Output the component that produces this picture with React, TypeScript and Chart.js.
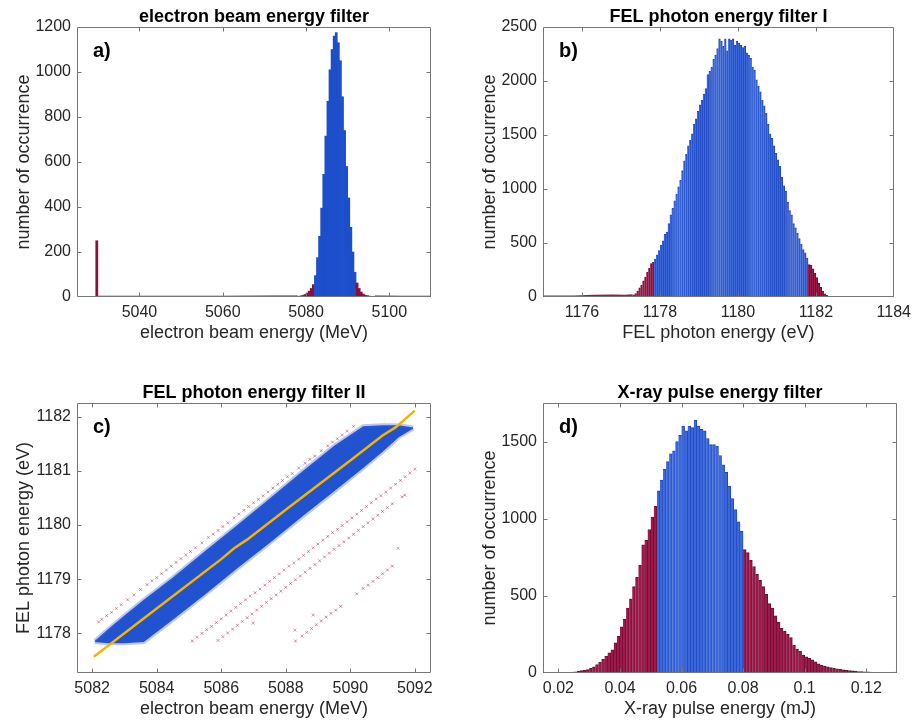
import React, { useEffect, useRef } from "react";
import { Chart, registerables } from "chart.js";

Chart.register(...registerables);

const FONT = "'Liberation Sans', Arial, Helvetica, sans-serif";
const TEXT = "#262626";
const FRAME = "#767676";
const TICK_LEN = 4;

const BLUE_A = "#1d4fcc";
const RED_A = "#8a0f3c";
const BLUE_FILL = "#3b68d8";
const BLUE_EDGE = "#1e46c2";
const RED_FILL = "#9a1a4a";
const RED_EDGE = "#6f0a30";
const YELLOW = "#f5b400";

// ---------------- a) electron beam energy filter ----------------
const A_TITLE = "electron beam energy filter";
const A_XLABEL = "electron beam energy (MeV)";
const A_YLABEL = "number of occurrence";
const A_X_TICKS = [5040, 5060, 5080, 5100];
const A_Y_TICKS = [0, 200, 400, 600, 800, 1000, 1200];
const A_BIN_START = 5078.25;
const A_BIN_WIDTH = 0.5;
const A_COUNTS = [
  3, 5, 7, 11, 17, 26, 38, 55, 95, 175, 270, 395, 545, 715, 870, 1010, 1100,
  1160, 1175, 1130, 1050, 890, 740, 580, 440, 310, 200, 110, 62, 38, 22, 13, 8,
  6, 4, 3, 3,
];
const A_OUTLIER_X = [5029.75];
const A_OUTLIER_Y = [250];
const A_FLOOR_X = [5030, 5045, 5060, 5072, 5078];
const A_FLOOR_Y = [2, 2, 2, 3, 3];
const A_TAIL_X = [5096.5, 5103, 5110];
const A_TAIL_Y = [3, 2, 2];
const A_CUT = [5082, 5092];

// ---------------- b) FEL photon energy filter I ----------------
const B_TITLE = "FEL photon energy filter I";
const B_XLABEL = "FEL photon energy (eV)";
const B_YLABEL = "number of occurrence";
const B_X_TICKS = [1176, 1178, 1180, 1182, 1184];
const B_Y_TICKS = [0, 500, 1000, 1500, 2000, 2500];
const B_BIN_START = 1177.325;
const B_BIN_WIDTH = 0.05;
const B_COUNTS = [
  20, 32, 55, 85, 110, 150, 185, 230, 265, 310, 320,
  350, 390, 430, 480, 520, 580, 600, 680, 760, 820,
  890, 950, 1020, 1080, 1170, 1260, 1320, 1400, 1450, 1510,
  1600, 1650, 1720, 1780, 1820, 1880, 1930, 2060, 2090, 2130,
  2200, 2240, 2300, 2390, 2370, 2320, 2390, 2280, 2390, 2380,
  2390, 2330, 2370, 2350, 2330, 2310, 2320, 2260, 2240, 2210,
  2130, 2100, 2010, 1950, 1900, 1820, 1770, 1700, 1600, 1510,
  1470, 1400, 1330, 1270, 1210, 1110, 1030, 980, 880, 800,
  760, 680, 640, 590, 540, 490, 440, 410, 360,
  300, 295, 260, 220, 180, 130, 90, 55, 30, 16, 8, 4,
];
const B_FLOOR_X = [1175, 1175.8, 1176.3, 1176.8, 1177.1, 1177.3];
const B_FLOOR_Y = [6, 8, 14, 16, 14, 18];
const B_TAIL_X = [1182.4, 1183, 1184];
const B_TAIL_Y = [3, 3, 2];
const B_CUT = [1177.85, 1181.8];

// ---------------- c) FEL photon energy filter II ----------------
const C_TITLE = "FEL photon energy filter II";
const C_XLABEL = "electron beam energy (MeV)";
const C_YLABEL = "FEL photon energy (eV)";
const C_X_TICKS = [5082, 5084, 5086, 5088, 5090, 5092];
const C_Y_TICKS = [1178, 1179, 1180, 1181, 1182];
const C_BAND_X = [5082.08, 5082.5, 5083.0, 5083.6, 5084.5, 5085.5, 5086.5, 5087.5, 5088.5, 5089.5, 5090.4, 5091.0, 5091.5, 5091.95];
const C_BAND_HI = [1177.86, 1178.08, 1178.33, 1178.62, 1179.03, 1179.52, 1180.0, 1180.49, 1180.98, 1181.46, 1181.82, 1181.84, 1181.84, 1181.8];
const C_BAND_LO = [1177.84, 1177.82, 1177.82, 1177.84, 1178.25, 1178.72, 1179.2, 1179.67, 1180.15, 1180.62, 1181.05, 1181.35, 1181.62, 1181.78];
const C_REJ_X = [
  // upper line
  5082.2, 5082.3, 5082.45, 5082.6, 5082.75, 5082.9, 5083.1, 5083.3, 5083.5, 5083.7, 5083.85, 5084.0, 5084.15, 5084.3,
  5084.45, 5084.6, 5084.75, 5084.9, 5085.05, 5085.2, 5085.4, 5085.6, 5085.75, 5085.9, 5086.05, 5086.2, 5086.4, 5086.55,
  5086.7, 5086.85, 5087.0, 5087.15, 5087.3, 5087.45, 5087.6, 5087.75, 5087.9, 5088.05, 5088.2, 5088.4, 5088.6, 5088.75,
  5088.9, 5089.1, 5089.3, 5089.45, 5089.6, 5089.75, 5089.9, 5090.1,
  // lower line 1
  5085.1, 5085.25, 5085.4, 5085.55, 5085.7, 5085.85, 5086.0, 5086.15, 5086.3, 5086.45, 5086.6, 5086.75, 5086.9,
  5087.05, 5087.2, 5087.35, 5087.5, 5087.65, 5087.8, 5087.95, 5088.1, 5088.25, 5088.4, 5088.55, 5088.7, 5088.85,
  5089.0, 5089.15, 5089.3, 5089.45, 5089.6, 5089.75, 5089.9, 5090.05, 5090.2, 5090.35, 5090.5, 5090.65, 5090.8,
  5090.95, 5091.1, 5091.25, 5091.4, 5091.55, 5091.7, 5091.85, 5092.0,
  // lower line 2
  5085.9, 5086.05, 5086.2, 5086.35, 5086.5, 5086.65, 5086.8, 5086.95, 5087.1, 5087.25, 5087.4, 5087.55, 5087.7,
  5087.85, 5088.0, 5088.15, 5088.3, 5088.45, 5088.6, 5088.75, 5088.9, 5089.05, 5089.2, 5089.35, 5089.5, 5089.65,
  5089.8, 5089.95, 5090.1, 5090.25, 5090.4, 5090.55, 5090.7, 5090.85, 5091.0, 5091.15, 5091.3, 5091.6,
  // lower line 3
  5088.3, 5088.5, 5088.65, 5088.8, 5088.95, 5089.1, 5089.25, 5089.4, 5089.55, 5089.7, 5090.2, 5090.4, 5090.55,
  5090.7, 5090.85, 5091.0, 5091.15, 5091.3,
  // strays
  5088.85, 5086.99, 5088.28, 5091.48, 5091.69,
];
const C_REJ_Y = [
  1178.21, 1178.26, 1178.33, 1178.39, 1178.46, 1178.53, 1178.62, 1178.71, 1178.81, 1178.9, 1178.97, 1179.03, 1179.1, 1179.17,
  1179.24, 1179.31, 1179.38, 1179.45, 1179.51, 1179.58, 1179.67, 1179.77, 1179.83, 1179.9, 1179.97, 1180.04, 1180.13, 1180.2,
  1180.27, 1180.34, 1180.41, 1180.47, 1180.54, 1180.61, 1180.68, 1180.75, 1180.82, 1180.89, 1180.95, 1181.05, 1181.14, 1181.21,
  1181.27, 1181.37, 1181.46, 1181.53, 1181.59, 1181.66, 1181.73, 1181.82,
  1177.86, 1177.93, 1178.0, 1178.07, 1178.13, 1178.2, 1178.27, 1178.34, 1178.41, 1178.48, 1178.55, 1178.62, 1178.69,
  1178.75, 1178.82, 1178.89, 1178.96, 1179.03, 1179.1, 1179.17, 1179.24, 1179.3, 1179.37, 1179.44, 1179.51, 1179.58,
  1179.65, 1179.72, 1179.79, 1179.86, 1179.92, 1179.99, 1180.06, 1180.13, 1180.2, 1180.27, 1180.34, 1180.41, 1180.48,
  1180.54, 1180.61, 1180.68, 1180.75, 1180.82, 1180.89, 1180.96, 1181.03,
  1177.87, 1177.94, 1178.01, 1178.08, 1178.15, 1178.22, 1178.29, 1178.36, 1178.43, 1178.5, 1178.57, 1178.64, 1178.71,
  1178.78, 1178.85, 1178.92, 1178.99, 1179.06, 1179.13, 1179.2, 1179.27, 1179.34, 1179.41, 1179.48, 1179.55, 1179.62,
  1179.69, 1179.76, 1179.83, 1179.9, 1179.97, 1180.04, 1180.11, 1180.18, 1180.25, 1180.32, 1180.39, 1180.52,
  1177.86, 1177.95, 1178.02, 1178.09, 1178.16, 1178.23, 1178.3, 1178.37, 1178.43, 1178.5, 1178.73, 1178.83, 1178.89,
  1178.96, 1179.03, 1179.1, 1179.17, 1179.24,
  1178.34, 1178.19, 1178.06, 1179.57, 1180.55,
];
const C_FIT_X = [5082.05, 5084.0, 5086.0, 5086.4, 5086.8, 5088.0, 5090.0, 5091.0, 5091.4, 5092.0];
const C_FIT_Y = [1177.57, 1178.46, 1179.37, 1179.57, 1179.73, 1180.28, 1181.19, 1181.65, 1181.8, 1182.11];

// ---------------- d) X-ray pulse energy filter ----------------
const D_TITLE = "X-ray pulse energy filter";
const D_XLABEL = "X-ray pulse energy (mJ)";
const D_YLABEL = "number of occurrence";
const D_X_TICKS = [0.02, 0.04, 0.06, 0.08, 0.1, 0.12];
const D_Y_TICKS = [0, 500, 1000, 1500];
const D_BIN_START = 0.0205;
const D_BIN_WIDTH = 0.001;
const D_COUNTS = [
  2, 3, 4, 5, 6, 8, 11, 15, 18, 22,
  30, 40, 55, 70, 90, 110, 130, 150, 195, 240,
  300, 350, 420, 480, 560, 620, 700, 830, 860, 930,
  1010, 1080,
  1180, 1250, 1320, 1370, 1420, 1440, 1500, 1540,
  1600, 1570, 1600, 1590, 1640, 1600, 1580, 1570, 1520, 1480,
  1480, 1470, 1410, 1350, 1300, 1210, 1130, 1060, 980, 920,
  800, 780, 730, 690, 640, 600, 560, 510, 450, 420,
  370, 330, 290, 270, 250, 230, 180, 155, 140, 115,
  105, 95, 85, 72, 60, 52, 45, 40, 35, 30,
  27, 24, 21, 18, 16, 14, 12, 10, 9, 8,
  7, 6, 5, 5, 4, 4, 3, 3,
];
const D_FLOOR_X = [0.015, 0.02];
const D_FLOOR_Y = [1, 2];
const D_TAIL_X = [0.128, 0.13];
const D_TAIL_Y = [2, 2];
const D_CUT = [0.0522, 0.08];

// ---------------- helpers ----------------
const zip = (xs: number[], ys: number[]) => xs.map((x, i) => ({ x, y: ys[i] }));
const bins = (start: number, width: number, counts: number[]) =>
  counts.map((c, i) => ({ x: +(start + i * width).toFixed(5), y: c }));
const byCut = (cut: number[], inside: string, outside: string) => (ctx: any) => {
  const x = ctx.raw ? ctx.raw.x : NaN;
  return x >= cut[0] && x <= cut[1] ? inside : outside;
};
const fmt = (v: any) => String(+Number(v).toFixed(6));

function makeDecor(t: { title: string; label: string; xLabel: string; yLabel: string }) {
  return {
    id: "panelDecor",
    afterDraw(chart: any) {
      const { ctx } = chart;
      const { left, top, right, bottom } = chart.chartArea;
      const xs = chart.scales.x;
      const ys = chart.scales.y;
      ctx.save();
      const L = Math.round(left) + 0.5;
      const T = Math.round(top) + 0.5;
      const R = Math.round(right) - 0.5;
      const B = Math.round(bottom) - 0.5;
      ctx.strokeStyle = FRAME;
      ctx.lineWidth = 1;
      ctx.beginPath();
      ctx.rect(L, T, R - L, B - T);
      for (const tk of xs.ticks) {
        const px = Math.round(xs.getPixelForValue(tk.value)) + 0.5;
        if (px < L + 1 || px > R - 1) continue;
        ctx.moveTo(px, B);
        ctx.lineTo(px, B - TICK_LEN);
        ctx.moveTo(px, T);
        ctx.lineTo(px, T + TICK_LEN);
      }
      for (const tk of ys.ticks) {
        const py = Math.round(ys.getPixelForValue(tk.value)) + 0.5;
        if (py < T + 1 || py > B - 1) continue;
        ctx.moveTo(L, py);
        ctx.lineTo(L + TICK_LEN, py);
        ctx.moveTo(R, py);
        ctx.lineTo(R - TICK_LEN, py);
      }
      ctx.stroke();

      ctx.fillStyle = "#000";
      ctx.textBaseline = "alphabetic";
      ctx.textAlign = "center";
      ctx.font = `bold 18px ${FONT}`;
      ctx.fillText(t.title, (left + right) / 2, top - 5);
      ctx.textAlign = "left";
      ctx.font = `bold 20px ${FONT}`;
      ctx.fillText(t.label, left + 16, top + 30);

      ctx.fillStyle = TEXT;
      ctx.textAlign = "center";
      ctx.font = `18px ${FONT}`;
      ctx.fillText(t.xLabel, (left + right) / 2, bottom + 41);
      ctx.translate(left - 48, (top + bottom) / 2);
      ctx.rotate(-Math.PI / 2);
      ctx.fillText(t.yLabel, 0, 0);
      ctx.restore();
    },
  };
}

type Geo = { padTop: number; padRight: number; yW: number; xH: number };

function scalesFor(geo: Geo, xr: number[], yr: number[], xt: number[], yt: number[]) {
  const tickFont = { family: FONT, size: 16 };
  return {
    x: {
      type: "linear",
      min: xr[0],
      max: xr[1],
      offset: false,
      grid: { display: false, drawTicks: false },
      border: { display: false },
      ticks: { padding: 6, color: TEXT, font: tickFont, maxRotation: 0, autoSkip: false, callback: fmt },
      afterBuildTicks: (s: any) => {
        s.ticks = xt.map((v) => ({ value: v }));
      },
      afterFit: (s: any) => {
        s.height = geo.xH;
      },
    },
    y: {
      type: "linear",
      min: yr[0],
      max: yr[1],
      grid: { display: false, drawTicks: false },
      border: { display: false },
      ticks: { padding: 6, color: TEXT, font: tickFont, autoSkip: false, callback: fmt },
      afterBuildTicks: (s: any) => {
        s.ticks = yt.map((v) => ({ value: v }));
      },
      afterFit: (s: any) => {
        s.width = geo.yW;
      },
    },
  };
}

function baseOptions(geo: Geo, scales: any) {
  return {
    responsive: false,
    animation: false,
    events: [],
    layout: { padding: { left: 0, top: geo.padTop, right: geo.padRight, bottom: 0 } },
    plugins: { legend: { display: false }, tooltip: { enabled: false }, title: { display: false } },
    scales,
  };
}

function lowLine(xs: number[], ys: number[], color: string) {
  return {
    type: "line",
    data: zip(xs, ys),
    borderColor: color,
    backgroundColor: color,
    borderWidth: 1.5,
    pointRadius: 0,
    fill: "origin",
    order: 5,
  };
}

function histConfig(
  geo: Geo,
  xr: number[],
  yr: number[],
  xt: number[],
  yt: number[],
  data: { x: number; y: number }[],
  cut: number[],
  style: "solid" | "edged",
  floors: any[],
  texts: any
) {
  const bar: any = {
    type: "bar",
    data,
    barPercentage: 1,
    categoryPercentage: 1,
    order: 1,
  };
  if (style === "solid") {
    bar.backgroundColor = byCut(cut, BLUE_A, RED_A);
    bar.borderWidth = 0;
  } else {
    bar.backgroundColor = byCut(cut, BLUE_FILL, RED_FILL);
    bar.borderColor = byCut(cut, BLUE_EDGE, RED_EDGE);
    bar.borderWidth = { top: 1, right: 1, left: 0, bottom: 0 };
  }
  return {
    type: "bar",
    data: { datasets: [bar, ...floors] },
    options: baseOptions(geo, scalesFor(geo, xr, yr, xt, yt)),
    plugins: [makeDecor(texts)],
  };
}

const configA = () =>
  histConfig(
    { padTop: 27, padRight: 27, yW: 77, xH: 64 },
    [5025, 5110],
    [0, 1200],
    A_X_TICKS,
    A_Y_TICKS,
    [...zip(A_OUTLIER_X, A_OUTLIER_Y), ...bins(A_BIN_START, A_BIN_WIDTH, A_COUNTS)],
    A_CUT,
    "solid",
    [lowLine(A_FLOOR_X, A_FLOOR_Y, RED_A), lowLine(A_TAIL_X, A_TAIL_Y, RED_A)],
    { title: A_TITLE, label: "a)", xLabel: A_XLABEL, yLabel: A_YLABEL }
  );

const configB = () =>
  histConfig(
    { padTop: 27, padRight: 20, yW: 85, xH: 64 },
    [1175, 1184],
    [0, 2500],
    B_X_TICKS,
    B_Y_TICKS,
    bins(B_BIN_START, B_BIN_WIDTH, B_COUNTS),
    B_CUT,
    "edged",
    [lowLine(B_FLOOR_X, B_FLOOR_Y, RED_FILL), lowLine(B_TAIL_X, B_TAIL_Y, RED_FILL)],
    { title: B_TITLE, label: "b)", xLabel: B_XLABEL, yLabel: B_YLABEL }
  );

const configD = () =>
  histConfig(
    { padTop: 42, padRight: 20, yW: 85, xH: 49 },
    [0.015, 0.13],
    [0, 1750],
    D_X_TICKS,
    D_Y_TICKS,
    bins(D_BIN_START, D_BIN_WIDTH, D_COUNTS),
    D_CUT,
    "edged",
    [lowLine(D_FLOOR_X, D_FLOOR_Y, RED_FILL), lowLine(D_TAIL_X, D_TAIL_Y, RED_FILL)],
    { title: D_TITLE, label: "d)", xLabel: D_XLABEL, yLabel: D_YLABEL }
  );

const configC = () => {
  const geo = { padTop: 42, padRight: 27, yW: 77, xH: 49 };
  const edge = "rgba(55,95,215,0.35)";
  return {
    type: "scatter",
    data: {
      datasets: [
        {
          type: "line",
          data: zip(C_BAND_X, C_BAND_LO),
          borderColor: edge,
          borderWidth: 4,
          pointRadius: 0,
          fill: false,
          order: 3,
        },
        {
          type: "line",
          data: zip(C_BAND_X, C_BAND_HI),
          borderColor: edge,
          backgroundColor: "#2152cf",
          borderWidth: 4,
          pointRadius: 0,
          fill: "-1",
          order: 2,
        },
        {
          type: "scatter",
          data: zip(C_REJ_X, C_REJ_Y),
          pointStyle: "crossRot",
          pointRadius: 2,
          borderWidth: 1,
          borderColor: "rgba(160,40,80,0.5)",
          backgroundColor: "rgba(160,40,80,0.5)",
          showLine: false,
          order: 1,
        },
        {
          type: "line",
          data: zip(C_FIT_X, C_FIT_Y),
          borderColor: YELLOW,
          borderWidth: 2.5,
          pointRadius: 0,
          fill: false,
          tension: 0,
          order: 0,
        },
      ],
    },
    options: baseOptions(geo, scalesFor(geo, [5081.53, 5092.5], [1177.27, 1182.25], C_X_TICKS, C_Y_TICKS)),
    plugins: [makeDecor({ title: C_TITLE, label: "c)", xLabel: C_XLABEL, yLabel: C_YLABEL })],
  };
};

function Panel(props: { left: number; top: number; width: number; height: number; make: () => any }) {
  const ref = useRef<HTMLCanvasElement>(null);
  useEffect(() => {
    const chart = new Chart(ref.current as HTMLCanvasElement, props.make());
    return () => chart.destroy();
  }, []);
  return (
    <canvas
      ref={ref}
      width={props.width}
      height={props.height}
      style={{ position: "absolute", left: props.left, top: props.top, width: props.width, height: props.height }}
    />
  );
}

export default function App() {
  return (
    <div style={{ position: "absolute", left: 0, top: 0, width: 917, height: 722, background: "#fff" }}>
      <Panel left={0} top={0} width={458} height={361} make={configA} />
      <Panel left={458} top={0} width={459} height={361} make={configB} />
      <Panel left={0} top={361} width={458} height={361} make={configC} />
      <Panel left={458} top={361} width={459} height={361} make={configD} />
    </div>
  );
}
